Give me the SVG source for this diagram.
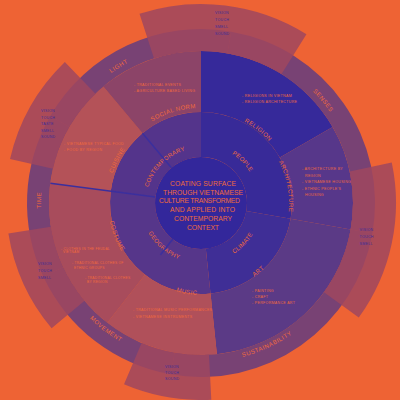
<svg xmlns="http://www.w3.org/2000/svg" width="400" height="400" viewBox="0 0 400 400">
<defs>
<style>
.lab{font-family:"Liberation Sans",Arial,sans-serif;font-size:6px;letter-spacing:.4px;fill:#F06A3C}
.l2{letter-spacing:.25px}
.lo{letter-spacing:.5px}
.ctr{font-family:"Liberation Sans",Arial,sans-serif;font-size:6.8px;fill:#F06A3C}
.bul{font-family:"Liberation Sans",Arial,sans-serif;font-size:3.6px;letter-spacing:.3px;fill:#F06A3C}
.bs{font-size:3.3px;letter-spacing:.25px}
.sen{font-family:"Liberation Sans",Arial,sans-serif;font-size:3.6px;letter-spacing:.3px;fill:#3A2D9A}
.ring{fill:#784274}
.w{fill:#9F475F;opacity:.85}
.sep{stroke:#3B2F9E;stroke-width:1.5;fill:none}
</style>
<path id="pContemporary" d="M146.22,198.21 A55,55 0 0 1 196.21,148.21"/>
<path id="pPeople" d="M206.06,145.22 A58,58 0 0 1 258.78,197.94"/>
<path id="pClimate" d="M207.32,263.17 A60.5,60.5 0 0 0 261.35,207.22"/>
<path id="pGeography" d="M141.25,212.46 A60.5,60.5 0 0 0 199.94,263.49"/>
<path id="pSocial" d="M121.32,151.26 A95,95 0 0 1 238.12,115.55"/>
<path id="pReligion" d="M197.79,111.06 A92,92 0 0 1 290.99,183.87"/>
<path id="pArch" d="M256.38,134.62 A88,88 0 0 1 277.96,245.66"/>
<path id="pCuisine" d="M110.38,223.93 A93,93 0 0 1 164.66,117.39"/>
<path id="pArt" d="M201,294 A91,91 0 0 0 290.62,218.80"/>
<path id="pMusic" d="M131.57,263.36 A92,92 0 0 0 248.38,281.86"/>
<path id="pCostume" d="M112.06,175.81 A93,93 0 0 0 158.78,285.86"/>
<path id="pLight" d="M62.81,126.40 A158,158 0 0 1 198.24,45.02"/>
<path id="pSenses" d="M255.04,54.53 A158,158 0 0 1 356.60,175.57"/>
<path id="pTime" d="M61.06,280.57 A160,160 0 0 1 63.85,120.60"/>
<path id="pSust" d="M159.72,357.06 A159.5,159.5 0 0 0 345.56,270.41"/>
<path id="pMovement" d="M44.61,239.11 A160.5,160.5 0 0 0 209.40,363.28"/>
</defs>
<rect width="400" height="400" fill="#EE6334"/>

<g id="contemporary">
<path d="M110.78,191.12 A91,91 0 0 1 201,112 L201,157 A46,46 0 0 0 155.39,197.00 Z" fill="#54348B"/>
<text class="lab l2"><textPath href="#pContemporary" startOffset="50%" text-anchor="middle">CONTEMPORARY</textPath></text>
</g>
<g id="people">
<path d="M201,112 A91,91 0 0 1 290.62,218.80 L246.30,210.99 A46,46 0 0 0 201,157 Z" fill="#382A98"/>
<text class="lab l2"><textPath href="#pPeople" startOffset="50%" text-anchor="middle">PEOPLE</textPath></text>
</g>
<g id="climate">
<path d="M290.62,218.80 A91,91 0 0 1 210.51,293.50 L205.81,248.75 A46,46 0 0 0 246.30,210.99 Z" fill="#3F2E96"/>
<text class="lab l2"><textPath href="#pClimate" startOffset="50%" text-anchor="middle">CLIMATE</textPath></text>
</g>
<g id="geography">
<path d="M210.51,293.50 A91,91 0 0 1 110.78,191.12 L155.39,197.00 A46,46 0 0 0 205.81,248.75 Z" fill="#56368A"/>
<text class="lab l2"><textPath href="#pGeography" startOffset="50%" text-anchor="middle">GEOGRAPHY</textPath></text>
</g>

<g id="cuisine">
<path d="M50.30,183.16 A152,152 0 0 1 103.30,86.56 L142.51,133.29 A91,91 0 0 0 110.78,191.12 Z" fill="#B45258"/>
<text class="lab"><textPath href="#pCuisine" startOffset="50%" text-anchor="middle">CUISINE</textPath></text>
<text class="bul" x="64" y="144.6">- VIETNAMESE TYPICAL FOOD</text>
<text class="bul" x="64" y="151.3">- FOOD BY REGION</text>
</g>
<g id="social-norm">
<path d="M103.30,86.56 A152,152 0 0 1 201,51 L201,112 A91,91 0 0 0 142.51,133.29 Z" fill="#8C4468"/>
<text class="lab"><textPath href="#pSocial" startOffset="50%" text-anchor="middle">SOCIAL NORM</textPath></text>
<text class="bul" x="134" y="86.3">- TRADITIONAL EVENTS</text>
<text class="bul" x="134" y="92.3">- AGRICULTURE BASED LIVING</text>
</g>
<g id="religion">
<path d="M201,51 A152,152 0 0 1 332.64,127 L279.81,157.5 A91,91 0 0 0 201,112 Z" fill="#36299A"/>
<text class="lab"><textPath href="#pReligion" startOffset="50%" text-anchor="middle">RELIGION</textPath></text>
<text class="bul" x="242" y="97.3">- RELIGIONS IN VIETNAM</text>
<text class="bul" x="242" y="103.3">- RELIGION ARCHITECTURE</text>
</g>
<g id="architecture">
<path d="M332.64,127 A152,152 0 0 1 350.69,229.39 L290.62,218.80 A91,91 0 0 0 279.81,157.5 Z" fill="#57378A"/>
<text class="lab"><textPath href="#pArch" startOffset="50%" text-anchor="middle">ARCHITECTURE</textPath></text>
<text class="bul" x="302" y="170.3">- ARCHITECTURE BY</text>
<text class="bul" x="305" y="177.3">REGION</text>
<text class="bul" x="302" y="183.3">- VIETNAMESE HOUSING</text>
<text class="bul" x="302" y="190.3">- ETHNIC PEOPLE'S</text>
<text class="bul" x="305" y="196.3">HOUSING</text>
</g>
<g id="art">
<path d="M350.69,229.39 A152,152 0 0 1 216.89,354.17 L210.51,293.50 A91,91 0 0 0 290.62,218.80 Z" fill="#5B3A86"/>
<text class="lab"><textPath href="#pArt" startOffset="50%" text-anchor="middle">ART</textPath></text>
<text class="bul" x="252" y="292.3">- PAINTING</text>
<text class="bul" x="252" y="298.3">- CRAFT</text>
<text class="bul" x="252" y="304.3">- PERFORMANCE ART</text>
</g>
<g id="music">
<path d="M216.89,354.17 A152,152 0 0 1 107.42,322.78 L144.97,274.71 A91,91 0 0 0 210.51,293.50 Z" fill="#B0505A"/>
<text class="lab"><textPath href="#pMusic" startOffset="50%" text-anchor="middle">MUSIC</textPath></text>
<text class="bul" x="133" y="311.3">- TRADITIONAL MUSIC PERFORMANCES</text>
<text class="bul" x="133" y="318">- VIETNAMESE INSTRUMENTS</text>
</g>
<g id="costume">
<path d="M107.42,322.78 A152,152 0 0 1 50.30,183.16 L110.78,191.12 A91,91 0 0 0 144.97,274.71 Z" fill="#A84C5C"/>
<text class="lab"><textPath href="#pCostume" startOffset="48%" text-anchor="middle">COSTUME</textPath></text>
<text class="bul bs" x="61" y="249.5">- CLOTHES IN THE FEUDAL</text>
<text class="bul bs" x="63" y="253.3">VIETNAM</text>
<text class="bul bs" x="72" y="264.3">- TRADITIONAL CLOTHES OF</text>
<text class="bul bs" x="74" y="268.5">ETHNIC GROUPS</text>
<text class="bul bs" x="85" y="278.8">- TRADITIONAL CLOTHES</text>
<text class="bul bs" x="87" y="283">BY REGION</text>
</g>

<g id="separators">
<line class="sep" x1="155.39" y1="197.00" x2="50.30" y2="183.16"/>
<line class="sep" x1="171.43" y1="167.76" x2="142.51" y2="133.29" stroke-width="1.1"/>
<line class="sep" x1="172.68" y1="239.25" x2="160.5" y2="254.8" stroke-width="1.1"/>
</g>

<g id="light">
<path class="ring" d="M50.31,116 A174,174 0 0 1 231.21,31.64 L227.39,53.31 A152,152 0 0 0 69.36,127 Z"/>
<text class="lab lo"><textPath href="#pLight" startOffset="50%" text-anchor="middle">LIGHT</textPath></text>
</g>
<g id="senses">
<path class="ring" d="M231.21,31.64 A174,174 0 0 1 372.36,233.21 L350.69,229.39 A152,152 0 0 0 227.39,53.31 Z"/>
<text class="lab lo"><textPath href="#pSenses" startOffset="50%" text-anchor="middle">SENSES</textPath></text>
</g>
<g id="sustainability">
<path class="ring" d="M372.36,233.21 A174,174 0 0 1 170.79,374.36 L174.61,352.69 A152,152 0 0 0 350.69,229.39 Z"/>
<text class="lab lo"><textPath href="#pSust" startOffset="50%" text-anchor="middle">SUSTAINABILITY</textPath></text>
</g>
<g id="movement">
<path class="ring" d="M170.79,374.36 A174,174 0 0 1 43.30,276.54 L63.24,267.24 A152,152 0 0 0 174.61,352.69 Z"/>
<text class="lab lo"><textPath href="#pMovement" startOffset="50%" text-anchor="middle">MOVEMENT</textPath></text>
</g>
<g id="time">
<path class="ring" d="M43.30,276.54 A174,174 0 0 1 50.31,116 L69.36,127 A152,152 0 0 0 63.24,267.24 Z"/>
<text class="lab lo"><textPath href="#pTime" startOffset="50%" text-anchor="middle">TIME</textPath></text>
</g>

<g id="senses-top">
<path class="w" d="M139.51,13.74 A199,199 0 0 1 306.45,34.24 L281.55,74.10 A152,152 0 0 0 154.03,58.44 Z"/>
<text class="sen" x="215" y="13.7">VISION</text>
<text class="sen" x="215" y="20.7">TOUCH</text>
<text class="sen" x="215" y="27.7">SMELL</text>
<text class="sen" x="215" y="34.7">SOUND</text>
</g>
<g id="senses-left">
<path class="w" d="M10.02,158.91 A196,196 0 0 1 64.85,62.01 L95.41,93.66 A152,152 0 0 0 52.90,168.81 Z"/>
<text class="sen" x="41" y="112.3">VISION</text>
<text class="sen" x="41" y="118.6">TOUCH</text>
<text class="sen" x="41" y="125">TASTE</text>
<text class="sen" x="41" y="131.6">SMELL</text>
<text class="sen" x="41" y="138.3">SOUND</text>
</g>
<g id="senses-right">
<path class="w" d="M391.74,162.46 A195,195 0 0 1 358.76,317.62 L323.97,292.34 A152,152 0 0 0 349.68,171.40 Z"/>
<text class="sen" x="359.5" y="231.3">VISION</text>
<text class="sen" x="359.5" y="238">TOUCH</text>
<text class="sen" x="359.5" y="245">SMELL</text>
</g>
<g id="senses-bottom">
<path class="w" d="M211.31,399.73 A197,197 0 0 1 124.03,384.34 L141.61,342.92 A152,152 0 0 0 208.96,354.79 Z"/>
<text class="sen" x="165" y="368">VISION</text>
<text class="sen" x="165" y="374">TOUCH</text>
<text class="sen" x="165" y="380.3">SOUND</text>
</g>
<g id="senses-bottom-left">
<path class="w" d="M51.62,328.34 A195,195 0 0 1 8.40,233.50 L50.87,226.78 A152,152 0 0 0 84.56,300.70 Z"/>
<text class="sen" x="38" y="264.6">VISION</text>
<text class="sen" x="38" y="272">TOUCH</text>
<text class="sen" x="38" y="278.6">SMELL</text>
</g>

<g id="center">
<circle cx="201" cy="203" r="46" fill="#33279B"/>
<text class="ctr" x="170" y="185.7" textLength="66">COATING SURFACE</text>
<text class="ctr" x="163" y="195.1" textLength="80">THROUGH VIETNAMESE</text>
<text class="ctr" x="159" y="203.4" textLength="81">CULTURE TRANSFORMED</text>
<text class="ctr" x="170" y="212.4" textLength="65">AND APPLIED INTO</text>
<text class="ctr" x="174" y="220.7" textLength="58">CONTEMPORARY</text>
<text class="ctr" x="187" y="229.7" textLength="32">CONTEXT</text>
</g>
</svg>
